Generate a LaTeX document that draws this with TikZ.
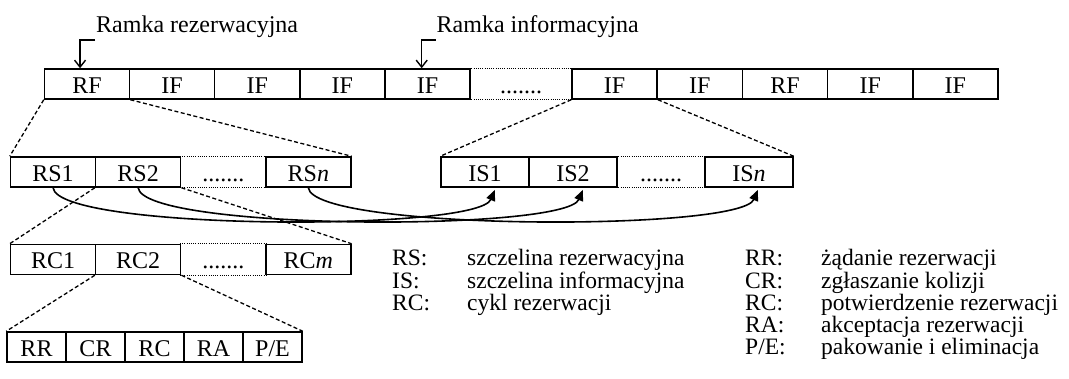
\documentclass[tikz,border=0pt]{standalone}
\usepackage{fontspec}
\setmainfont{Liberation Serif}
\usetikzlibrary{arrows.meta}
\begin{document}
\begin{tikzpicture}[x=1pt,y=-1pt,
  cell/.style={draw, line width=1.5pt, minimum height=30pt, inner sep=0pt,
    text height=19pt, text depth=0pt, font=\fontsize{24}{24}\selectfont},
  tcell/.style={cell, minimum width=85.1pt},
  rcell/.style={cell, minimum width=85.1pt},
  icell/.style={cell, minimum width=88pt},
  small/.style={cell, minimum width=59pt},
  gap/.style={draw=none},
  dotl/.style={line width=1pt, dash pattern=on 1pt off 1.2pt},
  dsh/.style={line width=1.3pt, dash pattern=on 4pt off 2.5pt},
  crv/.style={line width=1.6pt, -{Triangle[length=11pt,width=9pt]}},
  arr/.style={line width=1.4pt, -{Straight Barb[length=7pt,width=11pt]}},
  txt/.style={inner sep=0pt, anchor=base west, font=\fontsize{24}{24}\selectfont},
  legend/.style={inner sep=0pt, anchor=base west, font=\fontsize{23.5}{19}\selectfont}]
\useasboundingbox (0,0) rectangle (1069,379);

% top row
\foreach \i/\t in {0/RF,1/IF,2/IF,3/IF,4/IF}
  \node[tcell] (t\i) at (44.5+85.1*\i+42.55,84) {\t};
\node[tcell, gap, minimum width=102pt] (t5) at (521,84) {.......};
\foreach \i/\t in {6/IF,7/IF,8/RF,9/IF,10/IF}
  \node[tcell, minimum width=85.2pt] (t\i) at (572+85.2*\i-85.2*6+42.6,84) {\t};
\draw[dotl] (t5.north west) -- (t5.north east);
\draw[dotl] (t5.south west) -- (t5.south east);

% labels with arrows
\node[txt] (ramR) at (96,33) {Ramka rezerwacyjna};
\node[txt] (ramI) at (436.5,33) {Ramka informacyjna};
\coordinate (aR) at ([xshift=-1pt,yshift=-7pt]ramR.base west);
\coordinate (aI) at ([xshift=-1pt,yshift=-7pt]ramI.base west);
\draw[arr] (aR) -| ([xshift=-7pt]t0.north);
\draw[arr] (aI) -| ([xshift=-5.75pt]t4.north);

% RS row
\node[rcell] (rs0) at (53.05,172) {RS1};
\node[rcell] (rs1) at (53.05+85.1,172) {RS2};
\node[rcell, gap] (rs2) at (53.05+170.2,172) {.......};
\node[rcell] (rs3) at (53.05+255.3,172) {RS\textit{n}};
\draw[dotl] (rs2.north west) -- (rs2.north east);
\draw[dotl] (rs2.south west) -- (rs2.south east);

% IS row
\node[icell] (is0) at (485,172) {IS1};
\node[icell] (is1) at (485+88,172) {IS2};
\node[icell, gap] (is2) at (485+176,172) {.......};
\node[icell] (is3) at (485+264,172) {IS\textit{n}};
\draw[dotl] (is2.north west) -- (is2.north east);
\draw[dotl] (is2.south west) -- (is2.south east);

% RC row
\node[rcell] (rc0) at (53.05,259.5) {RC1};
\node[rcell] (rc1) at (53.05+85.1,259.5) {RC2};
\node[rcell, gap] (rc2) at (53.05+170.2,259.5) {.......};
\node[rcell] (rc3) at (53.05+255.3,259.5) {RC\textit{m}};
\draw[dotl] (rc2.north west) -- (rc2.north east);
\draw[dotl] (rc2.south west) -- (rc2.south east);

% bottom row
\node[small] (b0) at (36.5,347) {RR};
\node[small] (b1) at (36.5+59,347) {CR};
\node[small] (b2) at (36.5+118,347) {RC};
\node[small] (b3) at (36.5+177,347) {RA};
\node[small] (b4) at (36.5+236,347) {P/E};

% dashed zoom lines
\draw[dsh] (t0.south west) -- (rs0.north west);
\draw[dsh] (t0.south east) -- (rs3.north east);
\draw[dsh] (t6.south west) -- (is0.north west);
\draw[dsh] (t6.south east) -- (is3.north east);
\draw[dsh] (rs1.south west) -- (rc0.north west);
\draw[dsh] (rs1.south east) -- (rc3.north east);
\draw[dsh] (rc1.south west) -- (b0.north west);
\draw[dsh] (rc1.south east) -- (b4.north east);

% curves RS -> IS
\draw[crv] (rs0.south) .. controls +(5,43) and +(-18,42) .. ([xshift=10pt,yshift=-2pt]is0.south);
\draw[crv] (rs1.south) .. controls +(5,43) and +(-18,42) .. ([xshift=10pt,yshift=-2pt]is1.south);
\draw[crv] (rs3.south) .. controls +(5,43) and +(-18,42) .. ([xshift=9pt,yshift=-2pt]is3.south);

% legend
\node[legend] (leg1) at (392,266) {\begin{tabular}[t]{@{}p{75pt}@{}l@{}}
RS: & szczelina rezerwacyjna\\
IS: & szczelina informacyjna\\
RC: & cykl rezerwacji
\end{tabular}};
\node[legend] (leg2) at (745,266) {\begin{tabular}[t]{@{}p{76pt}@{}l@{}}
RR: & żądanie rezerwacji\\
CR: & zgłaszanie kolizji\\
RC: & potwierdzenie rezerwacji\\
RA: & akceptacja rezerwacji\\
P/E: & pakowanie i eliminacja
\end{tabular}};
\end{tikzpicture}
\end{document}
